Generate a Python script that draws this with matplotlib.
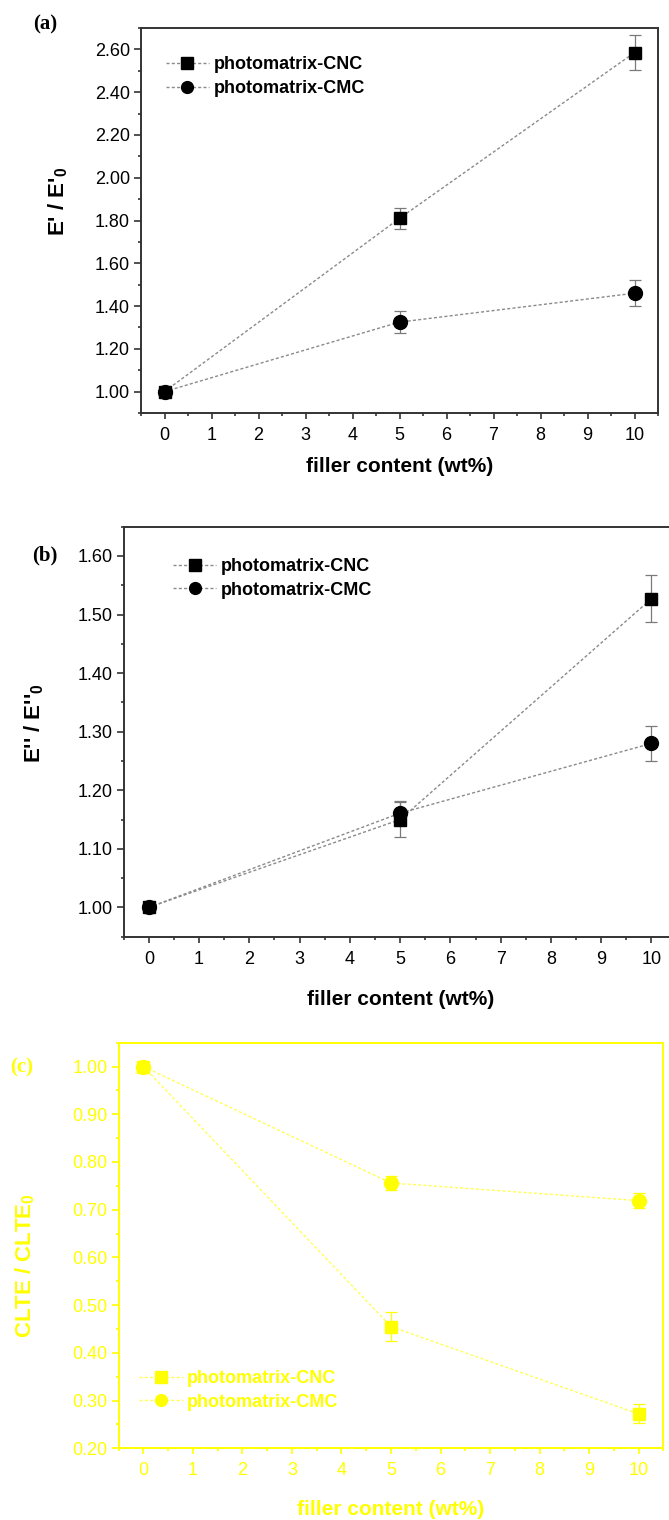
import matplotlib
matplotlib.use('Agg')
import matplotlib.pyplot as plt
from matplotlib.lines import Line2D
from matplotlib.ticker import MultipleLocator, FormatStrFormatter

plt.rcParams['font.family'] = ['Liberation Sans', 'DejaVu Sans']
plt.rcParams['mathtext.default'] = 'regular'

filler = [0, 5, 10]
series_names = ['photomatrix-CNC', 'photomatrix-CMC']

# (a) storage modulus ratio
a_cnc = [1.00, 1.81, 2.585]
a_cnc_err = [0.0, 0.05, 0.08]
a_cmc = [1.00, 1.325, 1.46]
a_cmc_err = [0.0, 0.05, 0.06]

# (b) loss modulus ratio
b_cnc = [1.00, 1.15, 1.527]
b_cnc_err = [0.0, 0.03, 0.04]
b_cmc = [1.00, 1.161, 1.28]
b_cmc_err = [0.0, 0.02, 0.03]

# (c) thermal expansion ratio
c_cnc = [1.00, 0.455, 0.272]
c_cnc_err = [0.0, 0.03, 0.02]
c_cmc = [1.00, 0.756, 0.719]
c_cmc_err = [0.0, 0.015, 0.015]

W, H = 669, 1520
fig = plt.figure(figsize=(W / 100, H / 100), dpi=100)


def px_axes(left, right, top, bottom):
    return fig.add_axes([left / W, 1 - bottom / H, (right - left) / W, (bottom - top) / H])


def panel(ax, cnc, cnc_err, cmc, cmc_err, ylim, ystep, ylabel, tag, tag_xy,
          leg_xy, ylab_xy, xlab_y, fg, line_c, err_c, spine_c):
    ls = (0, (2.2, 1.6))
    ax.errorbar(filler, cnc, yerr=cnc_err, fmt='s', ls=ls, color=line_c, lw=1.0,
                mfc=fg, mec=fg, ms=9, ecolor=err_c, elinewidth=0.9, capsize=4,
                capthick=0.9)
    ax.errorbar(filler, cmc, yerr=cmc_err, fmt='o', ls=ls, color=line_c, lw=1.0,
                mfc=fg, mec=fg, ms=10, ecolor=err_c, elinewidth=0.9, capsize=4,
                capthick=0.9)

    ax.set_xlim(-0.5, 10.5)
    ax.set_ylim(*ylim)
    ax.xaxis.set_major_locator(MultipleLocator(1))
    ax.xaxis.set_minor_locator(MultipleLocator(0.5))
    ax.yaxis.set_major_locator(MultipleLocator(ystep))
    ax.yaxis.set_minor_locator(MultipleLocator(ystep / 2))
    ax.yaxis.set_major_formatter(FormatStrFormatter('%.2f'))

    for s in ax.spines.values():
        s.set_color(spine_c)
        s.set_linewidth(1.4)
    ax.tick_params(which='both', direction='out', top=False, right=False,
                   color=spine_c, width=1.2, labelcolor=fg, labelsize=13)
    ax.tick_params(axis='y', which='major', length=5, pad=3)
    ax.tick_params(axis='x', which='major', length=4, pad=6)
    ax.tick_params(which='minor', length=2.5)

    ax.set_xlabel('filler content (wt%)', fontsize=15, fontweight='bold', color=fg,
                  va='top')
    ax.xaxis.set_label_coords(0.5, xlab_y)
    ax.set_ylabel(ylabel, fontsize=16, fontweight='bold', color=fg)
    ax.yaxis.set_label_coords(*ylab_xy)

    # legend keys without the error bars
    handles = [Line2D([], [], ls=ls, lw=1.0, color=line_c, marker=m, ms=8.5,
                      mfc=fg, mec=fg) for m in ('s', 'o')]
    ax.legend(handles, series_names, loc='upper left', bbox_to_anchor=leg_xy,
              frameon=False, borderpad=0, borderaxespad=0, handlelength=2.4,
              handletextpad=0.25, labelspacing=0.37,
              prop={'weight': 'bold', 'size': 13}, labelcolor=fg)

    fig.text(tag_xy[0] / W, 1 - tag_xy[1] / H, tag, family=['Liberation Serif'],
             fontweight='bold', fontsize=15, color=fg, ha='center', va='center')


ax_a = px_axes(141, 658, 28, 413)
panel(ax_a, a_cnc, a_cnc_err, a_cmc, a_cmc_err, (0.9, 2.7), 0.2,
      "E' / E'$_0$", '(a)', (45, 24), (0.048, 0.926), (-0.137, 0.55), -0.114,
      'black', '#8a8a8a', '#7a7a7a', '#333333')

ax_b = px_axes(123.7, 676.6, 526.7, 936.7)
panel(ax_b, b_cnc, b_cnc_err, b_cmc, b_cmc_err, (0.95, 1.65), 0.1,
      "E'' / E''$_0$", '(b)', (45, 555), (0.089, 0.924), (-0.14, 0.52), -0.130,
      'black', '#8a8a8a', '#7a7a7a', '#333333')

ax_c = px_axes(118.6, 663.4, 1042.7, 1448.3)
panel(ax_c, c_cnc, c_cnc_err, c_cmc, c_cmc_err, (0.2, 1.05), 0.1,
      'CLTE / CLTE$_0$', '(c)', (22, 1067), (0.038, 0.1933), (-0.15, 0.45), -0.1275,
      '#ffff00', '#ffff55', '#ffff00', '#ffff00')

fig.savefig('out.png', dpi=100)
